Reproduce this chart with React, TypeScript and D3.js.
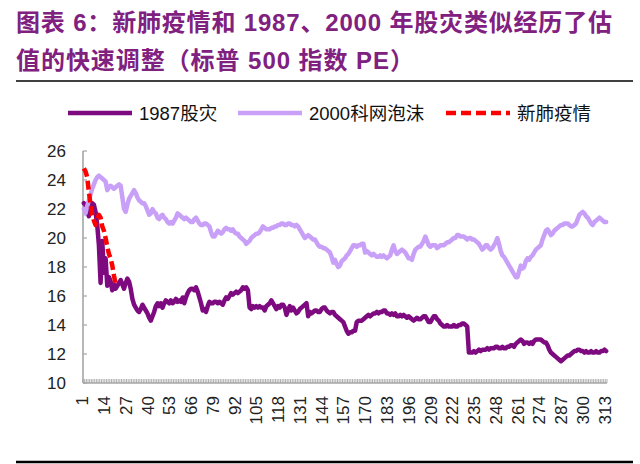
import React from 'react';
import * as d3 from 'd3';

const W = 640;
const H = 464;

const titleLines = [
  '图表 6：新肺疫情和 1987、2000 年股灾类似经历了估',
  '值的快速调整（标普 500 指数 PE）',
];

const seriesNames = ['1987股灾', '2000科网泡沫', '新肺疫情'];
const seriesColors = ['#7E0A80', '#C9A0F7', '#FF0000'];

const yTicks = [10, 12, 14, 16, 18, 20, 22, 24, 26];
const xTickLabels = [
  '1', '14', '27', '40', '53', '66', '79', '92', '105', '118', '131', '144', '157',
  '170', '183', '196', '209', '222', '235', '248', '261', '274', '287', '300', '313',
];

// 1987股灾
const crash1987 = [
  22.4, 22.3, 21.8, 21.5, 22.0, 22.4, 22.3, 21.8, 20.9, 19.5,
  16.9, 19.8, 17.6, 18.6, 16.7, 17.3, 17.0, 16.4, 16.8, 16.5,
  16.7, 16.9, 17.1, 16.8, 16.5, 16.9, 17.2, 17.0, 16.5, 15.8,
  15.4, 15.2, 15.0, 14.9, 15.1, 15.4, 15.2, 15.0, 14.8, 14.5,
  14.3, 14.6, 14.9, 15.3, 15.5, 15.3, 15.5, 15.2, 15.5, 15.7,
  15.6, 15.5, 15.7, 15.5, 15.6, 15.8, 15.6, 15.7, 15.6, 15.9,
  15.5, 15.9, 16.2, 16.4, 16.5, 16.5, 16.4, 16.6, 16.3, 15.9,
  15.5, 15.0, 15.1, 14.9, 15.3, 15.6, 15.5, 15.5, 15.6, 15.6,
  15.5, 15.6, 15.5, 15.4, 15.7, 15.9, 15.8, 16.0, 16.2, 16.1,
  16.2, 16.3, 16.2, 16.3, 16.4, 16.6, 16.5, 16.6, 16.4, 15.2,
  15.1, 15.3, 15.2, 15.3, 15.2, 15.3, 15.2, 15.2, 15.0, 15.3,
  15.4, 15.5, 15.7, 15.5, 15.3, 15.1, 15.3, 15.2, 15.4, 15.4,
  15.2, 14.7, 15.0, 15.3, 15.0, 15.2, 15.0, 14.8, 14.9, 15.1,
  15.2, 15.3, 15.4, 15.5, 14.6, 14.9, 14.8, 14.9, 15.0, 15.0,
  14.9, 14.9, 15.1, 15.2, 15.2, 15.0, 14.9, 14.8, 14.9, 14.9,
  14.7, 14.6, 14.5, 14.4, 14.3, 14.2, 13.9, 13.6, 13.4, 13.5,
  13.5, 13.6, 13.6, 14.2, 14.3, 14.3, 14.3, 14.4, 14.5, 14.6,
  14.7, 14.6, 14.7, 14.8, 14.8, 14.9, 14.8, 14.9, 14.9, 15.0,
  15.0, 14.8, 14.8, 14.7, 14.8, 14.7, 14.8, 14.6, 14.6, 14.7,
  14.6, 14.7, 14.6, 14.5, 14.6, 14.5, 14.4, 14.3, 14.4, 14.5,
  14.4, 14.4, 14.5, 14.6, 14.6, 14.4, 14.2, 14.2, 14.4, 14.6,
  14.6, 14.4, 14.3, 14.1, 14.0, 13.9, 13.9, 14.0, 13.9, 13.9,
  13.9, 14.0, 13.9, 13.9, 14.0, 14.0, 14.1, 14.1, 14.0, 13.9,
  12.1, 12.1, 12.1, 12.2, 12.1, 12.2, 12.3, 12.2, 12.3, 12.3,
  12.3, 12.4, 12.3, 12.4, 12.4, 12.4, 12.5, 12.5, 12.4, 12.4,
  12.5, 12.4, 12.4, 12.5, 12.5, 12.6, 12.6, 12.5, 12.7, 12.8,
  12.9, 13.0, 12.9, 12.7, 12.8, 12.8, 12.7, 12.8, 12.7, 12.9,
  13.0, 13.0, 13.0, 13.0, 12.9, 12.8, 12.8, 12.6, 12.3, 12.1,
  12.0, 11.9, 11.8, 11.7, 11.6, 11.5, 11.6, 11.7, 11.8, 11.9,
  11.9, 12.0, 12.1, 12.2, 12.2, 12.3, 12.3, 12.2, 12.2, 12.1,
  12.2, 12.1, 12.1, 12.2, 12.1, 12.1, 12.2, 12.1, 12.1, 12.2,
  12.2, 12.3, 12.2,
];

// 2000科网泡沫
const dotcom2000 = [
  22.0, 21.7, 22.2, 22.6, 23.0, 23.4, 23.7, 24.0, 24.2, 24.3,
  24.2, 24.1, 24.0, 23.9, 23.3, 23.5, 23.6, 23.5, 23.4, 23.5,
  23.6, 23.7, 23.6, 22.8, 22.0, 21.8, 22.3, 22.7, 22.9, 23.1,
  23.3, 23.1, 22.8, 22.6, 22.5, 22.4, 22.4, 22.2, 21.9, 21.6,
  21.7, 22.0, 21.8, 21.7, 21.4, 21.3, 21.5, 21.6, 21.4, 21.3,
  21.1, 21.0, 21.1, 21.0, 21.2, 21.4, 21.7, 21.6, 21.5, 21.4,
  21.3, 21.4, 21.3, 21.2, 21.1, 21.1, 21.3, 21.4, 21.2, 21.0,
  20.9, 20.9, 21.0, 21.0, 20.9, 20.8, 20.4, 20.1, 20.1, 20.3,
  20.5, 20.4, 20.3, 20.4, 20.6, 20.7, 20.6, 20.6, 20.5, 20.6,
  20.4, 20.3, 20.3, 20.1, 20.0, 19.9, 19.8, 19.6, 19.7, 19.8,
  20.0, 20.1, 20.2, 20.3, 20.3, 20.4, 20.6, 20.8, 20.7, 20.6,
  20.6, 20.6, 20.7, 20.7, 20.8, 20.8, 20.9, 20.9, 21.0, 21.0,
  20.9, 20.9, 21.0, 21.0, 20.9, 20.9, 20.8, 20.9, 20.8, 20.6,
  20.4, 20.2, 20.0, 20.1, 20.2, 20.1, 20.0, 19.9, 19.9, 19.7,
  19.5, 19.4, 19.4, 19.3, 19.3, 19.2, 19.1, 19.0, 18.7, 18.3,
  18.5, 18.2, 18.0, 18.1, 18.4, 18.5, 18.6, 18.8, 18.9, 19.1,
  19.3, 19.5, 19.5, 19.4, 19.5, 19.5, 19.6, 19.6, 19.0, 19.1,
  19.0, 18.9, 18.8, 18.9, 18.8, 18.7, 18.7, 18.8, 18.7, 18.8,
  18.7, 18.6, 18.7, 18.8, 19.2, 19.5, 19.1, 18.9, 19.0, 19.1,
  19.2, 19.1, 19.0, 18.8, 18.6, 18.6, 18.5, 18.9, 19.2, 19.3,
  19.4, 19.4, 19.6, 19.8, 20.1, 19.8, 19.5, 19.4, 19.5, 19.5,
  19.5, 19.3, 19.4, 19.5, 19.5, 19.5, 19.6, 19.7, 19.7, 19.8,
  19.9, 20.0, 20.0, 20.2, 20.2, 20.1, 20.1, 20.1, 20.0, 19.9,
  20.0, 20.0, 19.9, 19.9, 19.8, 19.7, 19.6, 19.4, 19.2, 19.3,
  19.5, 19.5, 19.3, 19.2, 19.3, 19.5, 19.7, 20.0, 19.6, 19.1,
  18.8, 18.7, 18.5, 18.3, 18.1, 17.9, 17.7, 17.5, 17.3, 17.3,
  17.7, 18.1, 17.9, 18.0, 18.4, 18.6, 18.5, 18.7, 18.8, 19.0,
  19.2, 19.3, 19.4, 19.5, 19.9, 20.2, 20.5, 20.6, 20.4, 20.2,
  20.3, 20.5, 20.6, 20.7, 20.8, 20.9, 20.9, 21.0, 21.0, 21.0,
  20.9, 20.8, 20.8, 20.9, 21.0, 21.3, 21.6, 21.7, 21.8, 21.7,
  21.5, 21.4, 21.2, 21.0, 20.9, 21.1, 21.2, 21.3, 21.4, 21.3,
  21.2, 21.1, 21.1,
];

// 新肺疫情
const covid2020 = [
  24.8, 24.6, 24.2, 23.2, 22.3, 21.6, 21.2, 20.9, 21.3, 21.6,
  21.4, 20.8, 20.5, 20.0, 19.4, 18.9, 18.6, 18.1, 17.4, 16.8,
];

const FONT = "'Liberation Sans', Arial, 'Noto Sans CJK SC', sans-serif";
const TITLE_COLOR = '#80207F';
const AXIS_COLOR = '#A6A6A6';

export default function App() {
  const n = Math.max(crash1987.length, dotcom2000.length);
  const categories = d3.range(1, n + 1);
  const x = d3.scaleBand<number>().domain(categories).range([83, 607]).padding(0);
  const y = d3.scaleLinear().domain([10, 26]).range([383, 151]);
  const cx = (i: number) => (x(categories[i]) as number) + x.bandwidth() / 2;

  const line = d3
    .line<number>()
    .x((_, i) => cx(i))
    .y((d) => y(d));

  const series = [crash1987, dotcom2000, covid2020];

  const legendX = [68, 238, 446];

  return (
    <svg
      width={W}
      height={H}
      viewBox={`0 0 ${W} ${H}`}
      style={{ position: 'absolute', left: 0, top: 0, background: '#fff' }}
    >
      <rect x={0} y={0} width={W} height={H} fill="#fff" />
      {/* title */}
      <text
        x={16}
        y={31}
        fontFamily={FONT}
        fontWeight="bold"
        fontSize={24}
        fill={TITLE_COLOR}
        textLength={596}
        lengthAdjust="spacing"
      >
        {titleLines[0]}
      </text>
      <text
        x={16}
        y={69}
        fontFamily={FONT}
        fontWeight="bold"
        fontSize={24}
        fill={TITLE_COLOR}
        textLength={398}
        lengthAdjust="spacing"
      >
        {titleLines[1]}
      </text>
      <line x1={16} x2={633} y1={81} y2={81} stroke="#000" strokeWidth={1.3} />
      <line x1={16} x2={633} y1={462} y2={462} stroke="#000" strokeWidth={2.6} />

      {/* legend */}
      {seriesNames.map((name, k) => (
        <g key={name}>
          <line
            x1={legendX[k]}
            x2={legendX[k] + 64}
            y1={113}
            y2={113}
            stroke={seriesColors[k]}
            strokeWidth={4.5}
            strokeDasharray={k === 2 ? '10 5' : undefined}
          />
          <text
            x={legendX[k] + 71}
            y={114}
            dy="0.35em"
            fontFamily={FONT}
            fontSize={18.5}
            fill="#111"
          >
            {name}
          </text>
        </g>
      ))}

      {/* axes */}
      <line x1={83} x2={83} y1={151} y2={383} stroke={AXIS_COLOR} strokeWidth={1.6} />
      <line x1={83} x2={607} y1={383} y2={383} stroke={AXIS_COLOR} strokeWidth={1.6} />
      {yTicks.map((t) => (
        <g key={t}>
          <line x1={83} x2={87} y1={y(t)} y2={y(t)} stroke={AXIS_COLOR} strokeWidth={1.2} />
          <text
            x={66}
            y={y(t)}
            dy="0.35em"
            textAnchor="end"
            fontFamily={FONT}
            fontSize={17}
            fill="#222"
          >
            {t}
          </text>
        </g>
      ))}
      {d3.range(n + 1).map((k) => {
        const xx = 83 + k * x.bandwidth();
        return <line key={k} x1={xx} x2={xx} y1={379} y2={383} stroke={AXIS_COLOR} strokeWidth={0.9} />;
      })}
      {xTickLabels.map((lab) => {
        const idx = categories.indexOf(+lab);
        const px = cx(idx) - 1.5;
        return (
          <text
            key={lab}
            transform={`translate(${px},396) rotate(-90)`}
            dy="0.35em"
            textAnchor="end"
            fontFamily={FONT}
            fontSize={17}
            fill="#222"
          >
            {lab}
          </text>
        );
      })}

      {/* series */}
      {series.map((vals, k) => (
        <path
          key={k}
          d={line(vals) || ''}
          fill="none"
          stroke={seriesColors[k]}
          strokeWidth={4.5}
          strokeLinejoin="round"
          strokeLinecap={k === 2 ? 'butt' : 'round'}
          strokeDasharray={k === 2 ? '9 4' : undefined}
        />
      ))}
    </svg>
  );
}
